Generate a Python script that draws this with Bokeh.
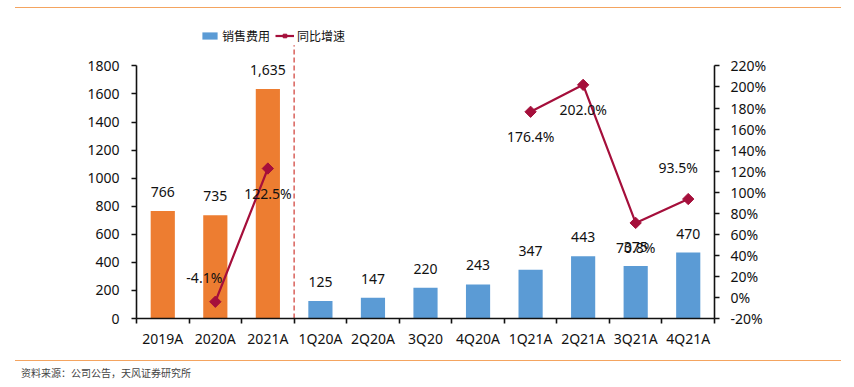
from bokeh.plotting import figure
from bokeh.models import (ColumnDataSource, Range1d, LinearAxis, FixedTicker,
                          NumeralTickFormatter, Legend, LegendItem, Label, Div)
from bokeh.layouts import column
from bokeh.embed import file_html
from bokeh.resources import INLINE
import math

# ---- data ----
categories = ["2019A", "2020A", "2021A", "1Q20A", "2Q20A", "3Q20", "4Q20A",
              "1Q21A", "2Q21A", "3Q21A", "4Q21A"]
sales = [766, 735, 1635, 125, 147, 220, 243, 347, 443, 375, 470]
growth = [None, -4.1, 122.5, None, None, None, None, 176.4, 202.0, 70.8, 93.5]
annual = ["2019A", "2020A", "2021A"]
left_ticks = [0, 200, 400, 600, 800, 1000, 1200, 1400, 1600, 1800]
right_ticks = [-20, 0, 20, 40, 60, 80, 100, 120, 140, 160, 180, 200, 220]
legend_labels = ["销售费用", "同比增速"]
source_note = "资料来源：公司公告，天风证券研究所"

ORANGE = "#ED7D31"
BLUE = "#5B9BD5"
RED = "#A50F3B"
RULE = "#F4A460"
FONT = "Noto Sans"
CJK = "Noto Sans CJK SC"

xs = list(range(len(categories)))
px_per = 252.6 / 1800.0
y_top = 303 / px_per
pct_per = 252.6 / 2.4
pct_top = -0.2 + 303 / pct_per

p = figure(width=854, height=352, output_backend="svg", toolbar_location=None,
           x_range=Range1d(-0.5, 10.5), y_range=Range1d(0, y_top),
           min_border_left=136, min_border_right=140, min_border_top=7,
           min_border_bottom=42, margin=(0, 0, 0, 0))
p.extra_y_ranges = {"pct": Range1d(-0.2, pct_top)}
p.outline_line_color = None
p.xgrid.visible = False
p.ygrid.visible = False
p.background_fill_color = "white"
p.border_fill_color = "white"

ann_idx = [i for i, c in enumerate(categories) if c in annual]
q_idx = [i for i, c in enumerate(categories) if c not in annual]
src_a = ColumnDataSource(dict(x=[xs[i] for i in ann_idx], y=[sales[i] for i in ann_idx]))
src_q = ColumnDataSource(dict(x=[xs[i] for i in q_idx], y=[sales[i] for i in q_idx]))
p.vbar(x="x", top="y", width=0.46, source=src_a, fill_color=ORANGE, line_color=None)
bar_q = p.vbar(x="x", top="y", width=0.46, source=src_q, fill_color=BLUE, line_color=None)

# bar value labels
src_lab = ColumnDataSource(dict(x=xs, y=sales, t=[f"{v:,}" for v in sales]))
p.text(x="x", y="y", text="t", source=src_lab, text_align="center", text_baseline="middle",
       y_offset=-19, text_font_size="14px", text_font={"value": FONT}, text_color="#111111")

# growth line
gy = [(g / 100.0 if g is not None else math.nan) for g in growth]
src_g = ColumnDataSource(dict(x=xs, y=gy))
ln = p.line(x="x", y="y", source=src_g, line_color=RED, line_width=2.2, y_range_name="pct")
mk = p.scatter(x="x", y="y", source=src_g, marker="square", angle=math.pi / 4, size=8,
               fill_color=RED, line_color=RED, y_range_name="pct")

# growth labels
above = {"2020A": (-11, -24), "4Q21A": (-10, -32)}
for i, g in enumerate(growth):
    if g is None:
        continue
    dx, dy = above.get(categories[i], (0, 25))
    p.add_layout(Label(x=xs[i], y=g / 100.0, y_range_name="pct", text=f"{g:.1f}%",
                       x_offset=dx, y_offset=-dy, text_align="center", text_baseline="middle",
                       text_font=FONT, text_font_size="14px", text_color="#111111"))

# dashed separator
p.segment(x0=[2.5], y0=[0], x1=[2.5], y1=[1800 + 20.7 / px_per], line_color="#D9605A",
          line_width=1.5, line_dash="5 3")

# axes
ax_l = p.yaxis[0]
ax_l.ticker = FixedTicker(ticks=left_ticks)
ax_l.bounds = (0, 1800)
ax_r = LinearAxis(y_range_name="pct",
                  ticker=FixedTicker(ticks=[t / 100.0 for t in right_ticks]),
                  formatter=NumeralTickFormatter(format="0%"), bounds=(-0.2, 2.2))
p.add_layout(ax_r, "right")
ax_x = p.xaxis[0]
ax_x.ticker = FixedTicker(ticks=xs, minor_ticks=[x - 0.5 for x in xs] + [xs[-1] + 0.5])
ax_x.major_label_overrides = {x: c for x, c in zip(xs, categories)}
ax_x.major_tick_out = 0
ax_x.major_tick_in = 0
ax_x.minor_tick_out = 5
ax_x.minor_tick_in = 0
ax_x.major_label_standoff = 5
for ax in (ax_l, ax_r):
    ax.major_tick_out = 5
    ax.major_tick_in = 0
ax_l.major_label_standoff = 12
ax_r.major_label_standoff = 11
for ax in (ax_l, ax_r, ax_x):
    ax.axis_line_color = "#111111"
    ax.axis_line_width = 1.6
    ax.major_tick_line_color = "#111111"
    ax.major_tick_line_width = 1.6
    ax.minor_tick_line_color = "#111111" if ax is ax_x else None
    ax.minor_tick_line_width = 1.6
    ax.major_label_text_font = FONT
    ax.major_label_text_font_size = "14px"
    ax.major_label_text_color = "#111111"

# legend
legend = Legend(items=[LegendItem(label=legend_labels[0], renderers=[bar_q]),
                       LegendItem(label=legend_labels[1], renderers=[ln, mk])],
                orientation="horizontal", location=(64, 274), padding=0, margin=0,
                spacing=5, glyph_width=19, glyph_height=9, label_standoff=3,
                label_text_font=CJK, label_text_font_size="12px",
                label_text_color="#111111", border_line_color=None,
                background_fill_alpha=0)
p.add_layout(legend)

# orange rules and source note
top_rule = Div(text="", width=826, height=8, margin=(0, 0, 0, 15),
               styles={"border-bottom": f"1.5px solid {RULE}", "box-sizing": "border-box"})
bottom = Div(text=source_note, width=826, height=27, margin=(0, 0, 0, 15),
             styles={"border-top": f"1.5px solid {RULE}", "box-sizing": "border-box",
                     "font-family": CJK, "font-size": "10px", "color": "#444444",
                     "padding": "6px 0 0 6px", "line-height": "12px"})

layout = column(top_rule, p, bottom, spacing=0)
open("out.html", "w").write(file_html(layout, INLINE))
